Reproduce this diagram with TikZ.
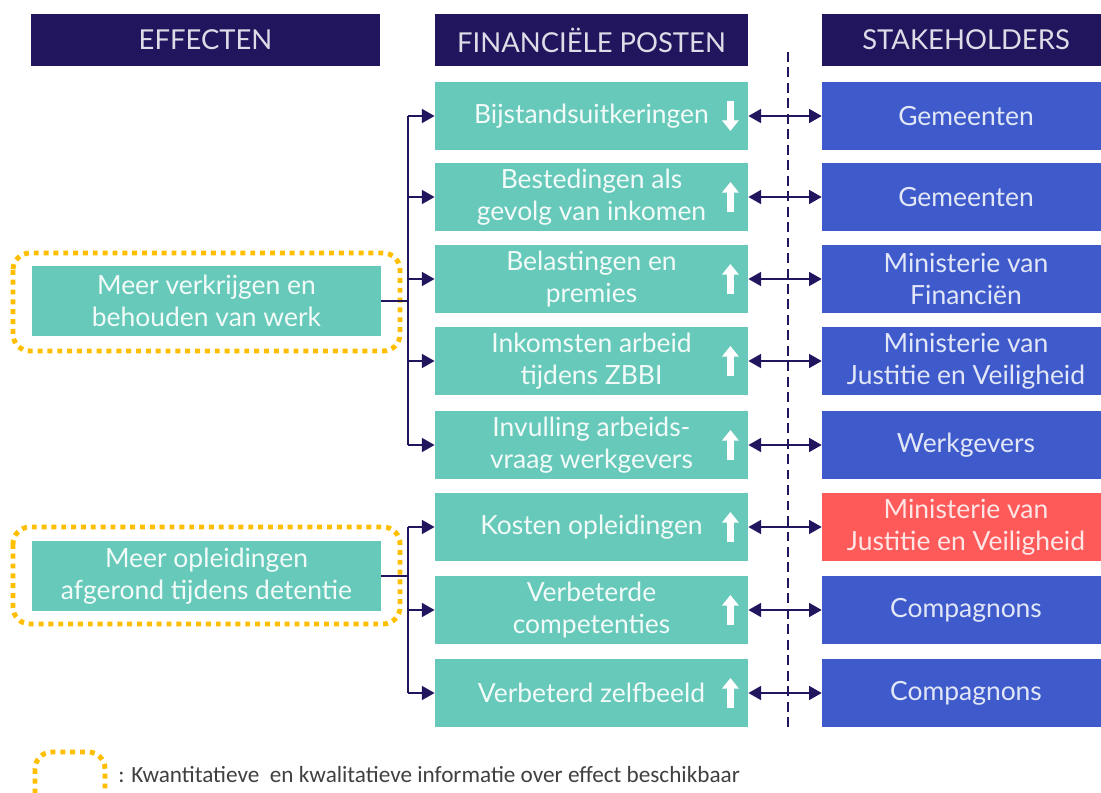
\documentclass[tikz,border=0pt]{standalone}
\usepackage{fontspec}
\setmainfont{Lato}
\newfontfamily\legendfont{Carlito}
\usetikzlibrary{arrows.meta,positioning}
\definecolor{hdnavy}{RGB}{33,22,94}
\definecolor{postteal}{RGB}{102,201,186}
\definecolor{holderblue}{RGB}{63,91,203}
\definecolor{holderred}{RGB}{255,90,90}
\definecolor{infogold}{RGB}{255,190,0}
\begin{document}
\begin{tikzpicture}[x=0.025cm,y=-0.025cm,
      header/.style={
         rectangle,
         fill=hdnavy,
         text=white!85!hdnavy,
         inner sep=0pt,
         minimum height=1.28cm,
         font=\fontsize{19.5}{22}\selectfont},
      post/.style={
         rectangle,
         fill=postteal,
         text=white!92!postteal,
         align=center,
         inner sep=0pt,
         minimum width=7.83cm,
         minimum height=1.7cm,
         font=\fontsize{18.8}{22.8}\selectfont},
      holder/.style={
         post,
         fill=holderblue,
         text=white!88!holderblue,
         minimum width=7.2cm},
      effect/.style={
         post,
         minimum width=8.73cm,
         minimum height=1.75cm},
      infobox/.style={
         draw=infogold,
         line width=3.5pt,
         dash pattern=on 3.5pt off 3.5pt,
         rounded corners=12pt},
      myline/.style={hdnavy, line width=1pt},
      myarrow/.style={myline, -{Triangle[length=9pt,width=10pt]}},
      myboth/.style={myline, {Triangle[length=9pt,width=10pt]}-{Triangle[length=9pt,width=10pt]}},
      trend/.style={white, line width=4.8pt, -{Triangle[length=7.5pt,width=11.5pt]}}
      ]
      \useasboundingbox (0,0) rectangle (1101,793);
      % headers
      \node[header, minimum width=8.73cm] (h1) at (205.5,40) {EFFECTEN};
      \node[header, minimum width=7.83cm] (h2) at (591.5,40) {FINANCIËLE POSTEN};
      \node[header, minimum width=7.2cm] (h3) at (966,40) {STAKEHOLDERS};
      % effects
      \node[effect] (e1) at (206.5,301) {Meer verkrijgen en\\behouden van werk};
      \node[effect] (e2) at (206.5,576) {Meer opleidingen\\afgerond tijdens detentie};
      \draw[infobox] (13,253) rectangle (400,351);
      \draw[infobox] (13,527) rectangle (400,624);
      % posts and stakeholders
      \foreach \i/\y/\txt/\who/\col in {
        1/116/Bijstandsuitkeringen/Gemeenten/holderblue,
        2/197/Bestedingen als\\gevolg van inkomen/Gemeenten/holderblue,
        3/279/Belastingen en\\premies/Ministerie van\\Financiën/holderblue,
        4/361/Inkomsten arbeid\\tijdens ZBBI/Ministerie van\\Justitie en Veiligheid/holderblue,
        5/445/Invulling arbeids-\\vraag werkgevers/Werkgevers/holderblue,
        6/527/Kosten opleidingen/Ministerie van\\Justitie en Veiligheid/holderred,
        7/610/Verbeterde\\competenties/Compagnons/holderblue,
        8/693/Verbeterd zelfbeeld/Compagnons/holderblue}
      {
        \node[post] (p\i) at (591.5,\y) {\txt};
        \node[holder, fill=\col, text=white!85!\col] (s\i) at (966,\y) {\who};
        \draw[myboth] (p\i.east) -- (s\i.west);
      }
      % trend arrows
      \draw[trend] ([shift={(-18,-15)}]p1.east) -- ([shift={(-18,15)}]p1.east);
      \foreach \i in {2,...,8}
        \draw[trend] ([shift={(-18,15)}]p\i.east) -- ([shift={(-18,-15)}]p\i.east);
      % branches
      \coordinate (t) at (408,0);
      \draw[myline] (e1.east) -- (t |- e1.east);
      \draw[myline] (t |- p1.west) -- (t |- p5.west);
      \foreach \i in {1,...,5}
        \draw[myarrow] (t |- p\i.west) -- (p\i.west);
      \draw[myline] (e2.east) -- (t |- e2.east);
      \draw[myline] (t |- p6.west) -- (t |- p8.west);
      \foreach \i in {6,7,8}
        \draw[myarrow] (t |- p\i.west) -- (p\i.west);
      % divider
      \coordinate (d1) at (788,52);
      \coordinate (d2) at (788,728);
      \draw[hdnavy, line width=1.8pt, dash pattern=on 7pt off 4pt] (d1) -- (d2);
      % legend
      \draw[infobox] (35,752) rectangle (105,810);
      \node[anchor=west, text=black!75, inner sep=0pt, font=\legendfont\fontsize{16.5}{18}\selectfont] (legend) at (118,775)
        {: Kwantitatieve\ \ en kwalitatieve informatie over effect beschikbaar};
\end{tikzpicture}
\end{document}
